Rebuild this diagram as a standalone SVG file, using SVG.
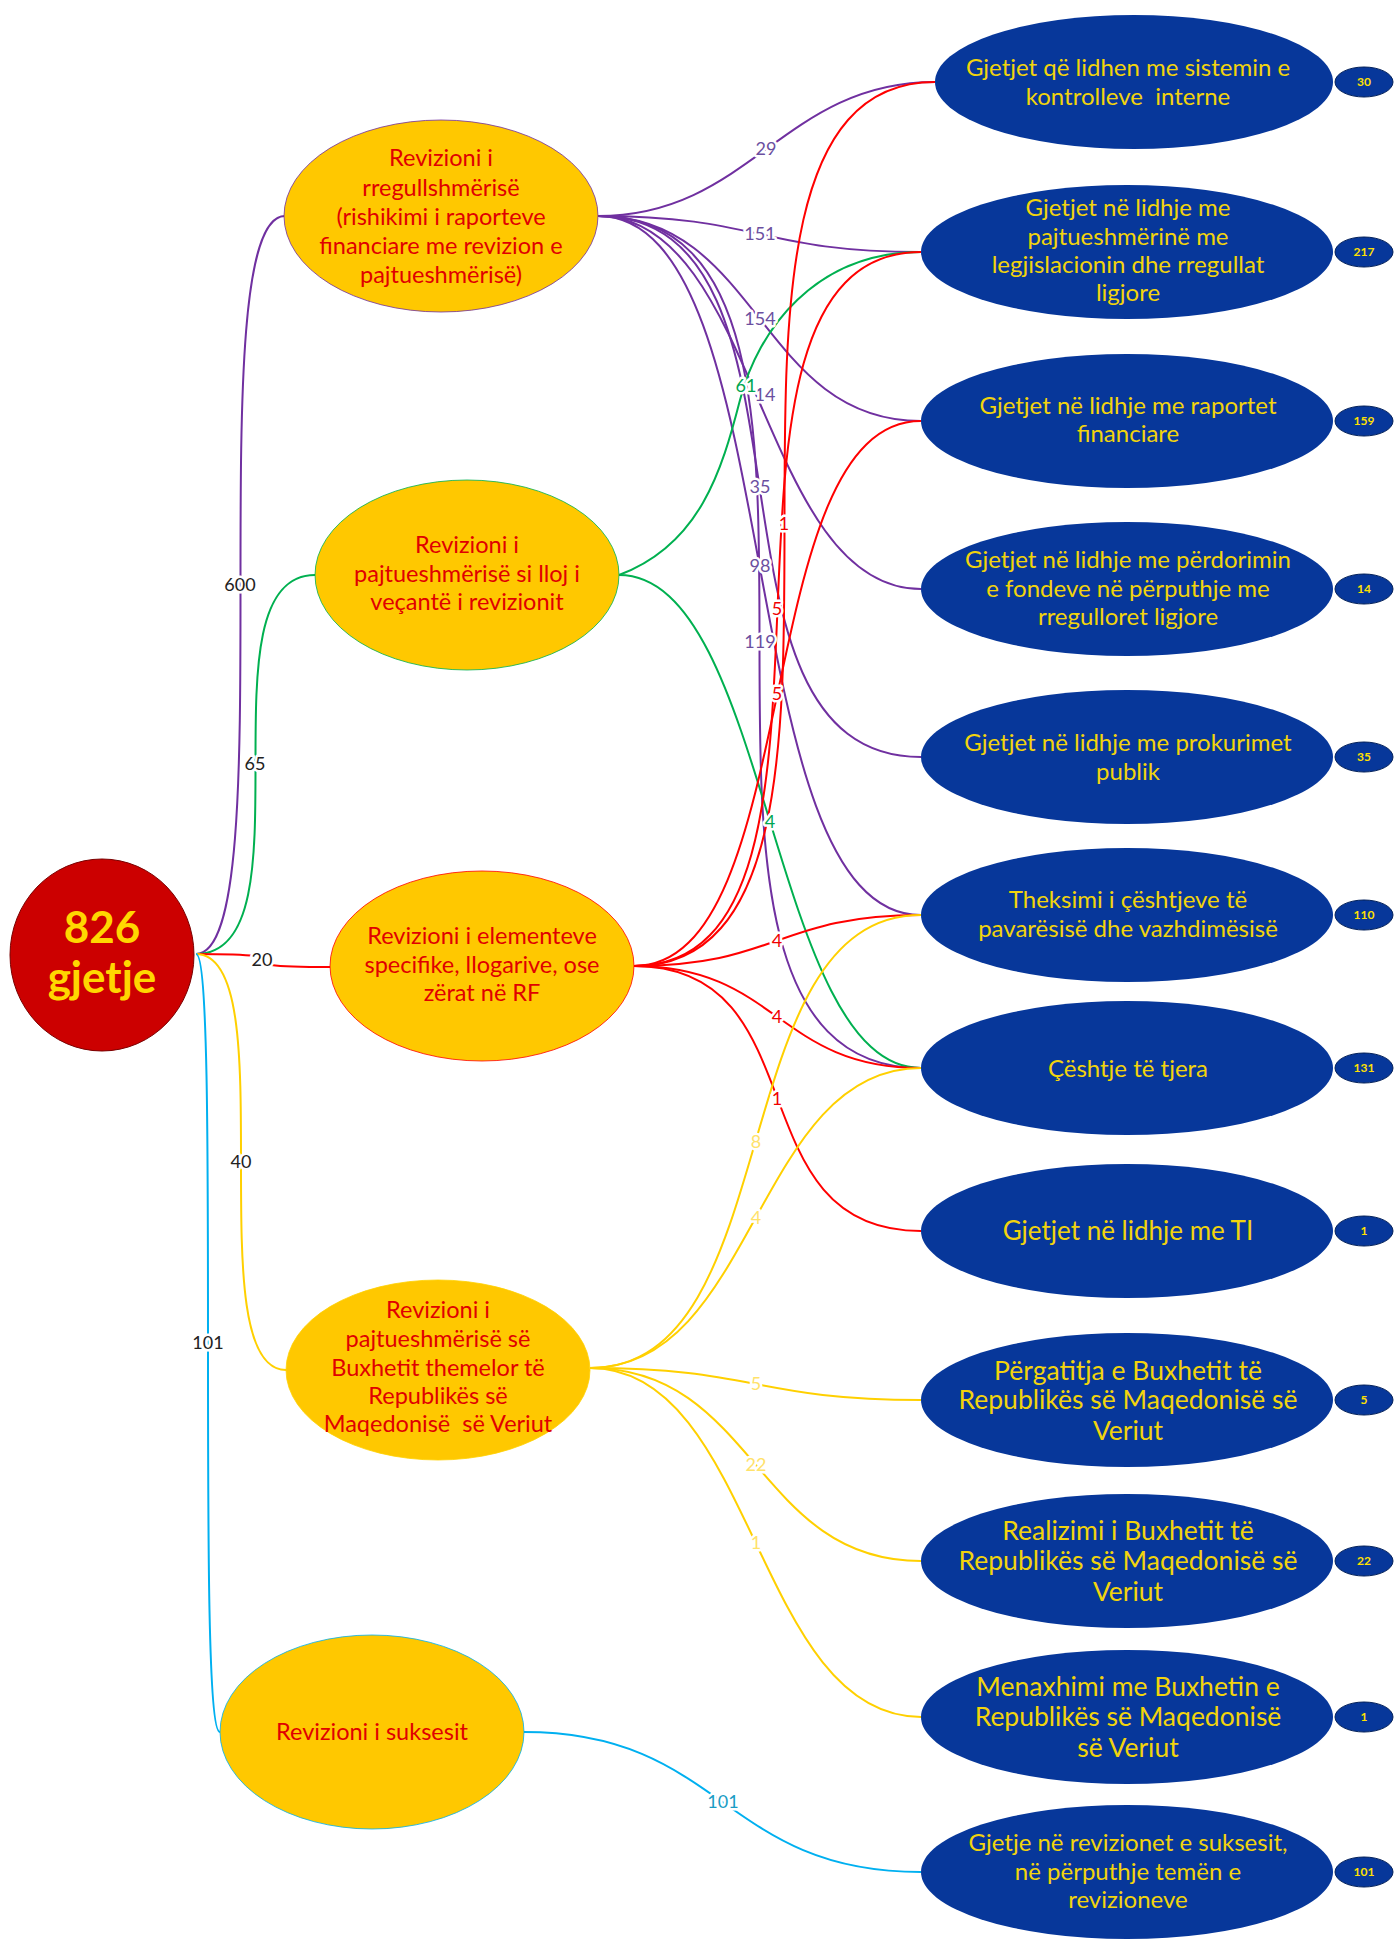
<svg xmlns="http://www.w3.org/2000/svg" width="1399" height="1939" viewBox="0 0 1399 1939">
<style>
.e{fill:none;stroke-width:2}
.pu{stroke:#7030A0}.gr{stroke:#00B050}.rd{stroke:#FF0000}.ye{stroke:#FFD000}.cy{stroke:#00B0F0}
.lb{font-family:Lato,"Liberation Sans",sans-serif;font-size:18px;text-anchor:middle;stroke:#fff;stroke-width:5;paint-order:stroke;stroke-linejoin:round}
.lk{fill:#222}.lp{fill:#6B4FA0}.lg{fill:#00A651}.lr{fill:#F00000}.ly{fill:#FFE26A}.lc{fill:#1A9CC4}
.l1{fill:#FFC800}
.t1{font-family:Lato,"Liberation Sans",sans-serif;font-size:23.5px;fill:#E00000;text-anchor:middle;white-space:pre}
.n2{fill:#07379A}
.t2{font-family:Lato,"Liberation Sans",sans-serif;font-size:24px;fill:#F2D40C;text-anchor:middle;white-space:pre}
.t2b{font-size:26.5px}
.c{fill:#07379A;stroke:#02205A;stroke-width:1}
.ct{font-family:Lato,"Liberation Sans",sans-serif;font-size:12px;font-weight:bold;fill:#FFE000;text-anchor:middle}
</style>
<rect width="1399" height="1939" fill="#fff"/>
<g id="connectors">
<path class="e pu" d="M196,954 C285,954 196,216 285,216"/>
<path class="e gr" d="M196,954 C315,954 196,575 315,575"/>
<path class="e rd" d="M196,954 C330,954 196,967 330,967"/>
<path class="e ye" d="M196,954 C286,954 196,1370 286,1370"/>
<path class="e cy" d="M196,954 C220,954 196,1732 220,1732"/>
<path class="e pu" d="M598,216 C750,216 783,82 935,82"/>
<path class="e pu" d="M598,216 C759.5,216 759.5,252 921,252"/>
<path class="e pu" d="M598,216 C759.5,216 759.5,421 921,421"/>
<path class="e pu" d="M598,216 C759.5,216 759.5,589 921,589"/>
<path class="e pu" d="M598,216 C840,216 679,757 921,757"/>
<path class="e pu" d="M598,216 C792,216 727,915 921,915"/>
<path class="e pu" d="M598,216 C921,216 598,1068 921,1068"/>
<path class="e gr" d="M619,575 C700,545 722,470 740,400 S815,252 921,252"/>
<path class="e gr" d="M619,575 C770,575 770,1068 921,1068"/>
<path class="e rd" d="M634,966 C935,966 634,82 935,82"/>
<path class="e rd" d="M634,966 C892,966 663,252 921,252"/>
<path class="e rd" d="M634,966 C806,966 749,421 921,421"/>
<path class="e rd" d="M634,966 C777.5,966 777.5,915 921,915"/>
<path class="e rd" d="M634,966 C777.5,966 777.5,1068 921,1068"/>
<path class="e rd" d="M634,966 C821,966 734,1231 921,1231"/>
<path class="e ye" d="M590,1368 C789,1368 722,915 921,915"/>
<path class="e ye" d="M590,1368 C755.5,1368 755.5,1068 921,1068"/>
<path class="e ye" d="M590,1368 C755.5,1368 755.5,1400 921,1400"/>
<path class="e ye" d="M590,1368 C755.5,1368 755.5,1561 921,1561"/>
<path class="e ye" d="M590,1368 C755.5,1368 755.5,1717 921,1717"/>
<path class="e cy" d="M524,1732 C722.5,1732 722.5,1872 921,1872"/>
<text class="lb lk" x="240" y="591">600</text>
<text class="lb lk" x="255" y="770">65</text>
<text class="lb lk" x="262" y="966">20</text>
<text class="lb lk" x="241" y="1168">40</text>
<text class="lb lk" x="208" y="1349">101</text>
<text class="lb lp" x="766" y="155">29</text>
<text class="lb lp" x="760" y="240">151</text>
<text class="lb lp" x="760" y="325">154</text>
<text class="lb lp" x="765" y="401">14</text>
<text class="lb lp" x="760" y="493">35</text>
<text class="lb lp" x="760" y="572">98</text>
<text class="lb lp" x="760" y="648">119</text>
<text class="lb lg" x="746" y="392">61</text>
<text class="lb lg" x="770" y="828">4</text>
<text class="lb lr" x="784" y="530">1</text>
<text class="lb lr" x="777" y="615">5</text>
<text class="lb lr" x="777" y="700">5</text>
<text class="lb lr" x="777" y="947">4</text>
<text class="lb lr" x="777" y="1023">4</text>
<text class="lb lr" x="777" y="1105">1</text>
<text class="lb ly" x="756" y="1148">8</text>
<text class="lb ly" x="756" y="1224">4</text>
<text class="lb ly" x="756" y="1390">5</text>
<text class="lb ly" x="756" y="1471">22</text>
<text class="lb ly" x="756" y="1549">1</text>
<text class="lb lc" x="723" y="1808">101</text>
</g>
<g id="root">
<ellipse cx="102" cy="955" rx="92" ry="96" fill="#CC0000" stroke="#7a0000" stroke-width="1"/>
<text x="102" y="943" font-family="Lato,'Liberation Sans',sans-serif" font-size="44" font-weight="bold" fill="#FFD700" text-anchor="middle">826</text>
<text x="102" y="993" font-family="Lato,'Liberation Sans',sans-serif" font-size="44" font-weight="bold" fill="#FFD700" text-anchor="middle">gjetje</text>
</g>
<g id="nodeA">
<ellipse class="l1" cx="441" cy="216" rx="157" ry="96" stroke="#7030A0" stroke-width="0.8"/>
<text class="t1" x="441" y="166">Revizioni i</text>
<text class="t1" x="441" y="196">rregullshmërisë</text>
<text class="t1" x="441" y="225">(rishikimi i raporteve</text>
<text class="t1" x="441" y="254">financiare me revizion e</text>
<text class="t1" x="441" y="283">pajtueshmërisë)</text>
</g>
<g id="nodeB">
<ellipse class="l1" cx="467" cy="575" rx="152" ry="95" stroke="#00B050" stroke-width="0.8"/>
<text class="t1" x="467" y="553">Revizioni i</text>
<text class="t1" x="467" y="582">pajtueshmërisë si lloj i</text>
<text class="t1" x="467" y="610">veçantë i revizionit</text>
</g>
<g id="nodeC">
<ellipse class="l1" cx="482" cy="966" rx="152" ry="95" stroke="#FF0000" stroke-width="0.8"/>
<text class="t1" x="482" y="944">Revizioni i elementeve</text>
<text class="t1" x="482" y="973">specifike, llogarive, ose</text>
<text class="t1" x="482" y="1001">zërat në RF</text>
</g>
<g id="nodeD">
<ellipse class="l1" cx="438" cy="1370" rx="152" ry="90" stroke="#FFD000" stroke-width="0.8"/>
<text class="t1" x="438" y="1318">Revizioni i</text>
<text class="t1" x="438" y="1347">pajtueshmërisë së</text>
<text class="t1" x="438" y="1376">Buxhetit themelor të</text>
<text class="t1" x="438" y="1404">Republikës së</text>
<text class="t1" x="438" y="1432">Maqedonisë  së Veriut</text>
</g>
<g id="nodeE">
<ellipse class="l1" cx="372" cy="1732" rx="152" ry="97" stroke="#00B0F0" stroke-width="0.8"/>
<text class="t1" x="372" y="1740">Revizioni i suksesit</text>
</g>
<g id="n1">
<ellipse class="n2" cx="1134" cy="82" rx="199" ry="67"/>
<text class="t2" x="1128" y="76">Gjetjet që lidhen me sistemin e</text>
<text class="t2" x="1128" y="105">kontrolleve  interne</text>
<ellipse class="c" cx="1364" cy="82" rx="29" ry="15"/><text class="ct" x="1364" y="86">30</text>
</g>
<g id="n2">
<ellipse class="n2" cx="1127" cy="252" rx="206" ry="67"/>
<text class="t2" x="1128" y="216">Gjetjet në lidhje me</text>
<text class="t2" x="1128" y="245">pajtueshmërinë me</text>
<text class="t2" x="1128" y="273">legjislacionin dhe rregullat</text>
<text class="t2" x="1128" y="301">ligjore</text>
<ellipse class="c" cx="1364" cy="252" rx="29" ry="15"/><text class="ct" x="1364" y="256">217</text>
</g>
<g id="n3">
<ellipse class="n2" cx="1127" cy="421" rx="206" ry="67"/>
<text class="t2" x="1128" y="414">Gjetjet në lidhje me raportet</text>
<text class="t2" x="1128" y="442">financiare</text>
<ellipse class="c" cx="1364" cy="421" rx="29" ry="15"/><text class="ct" x="1364" y="425">159</text>
</g>
<g id="n4">
<ellipse class="n2" cx="1127" cy="589" rx="206" ry="67"/>
<text class="t2" x="1128" y="568">Gjetjet në lidhje me përdorimin</text>
<text class="t2" x="1128" y="597">e fondeve në përputhje me</text>
<text class="t2" x="1128" y="625">rregulloret ligjore</text>
<ellipse class="c" cx="1364" cy="589" rx="29" ry="15"/><text class="ct" x="1364" y="593">14</text>
</g>
<g id="n5">
<ellipse class="n2" cx="1127" cy="757" rx="206" ry="67"/>
<text class="t2" x="1128" y="751">Gjetjet në lidhje me prokurimet</text>
<text class="t2" x="1128" y="780">publik</text>
<ellipse class="c" cx="1364" cy="757" rx="29" ry="15"/><text class="ct" x="1364" y="761">35</text>
</g>
<g id="n6">
<ellipse class="n2" cx="1127" cy="915" rx="206" ry="67"/>
<text class="t2" x="1128" y="908">Theksimi i çështjeve të</text>
<text class="t2" x="1128" y="937">pavarësisë dhe vazhdimësisë</text>
<ellipse class="c" cx="1364" cy="915" rx="29" ry="15"/><text class="ct" x="1364" y="919">110</text>
</g>
<g id="n7">
<ellipse class="n2" cx="1127" cy="1068" rx="206" ry="67"/>
<text class="t2" x="1128" y="1077">Çështje të tjera</text>
<ellipse class="c" cx="1364" cy="1068" rx="29" ry="15"/><text class="ct" x="1364" y="1072">131</text>
</g>
<g id="n8">
<ellipse class="n2" cx="1127" cy="1231" rx="206" ry="67"/>
<text class="t2" x="1128" y="1240" style="font-size:26px">Gjetjet në lidhje me TI</text>
<ellipse class="c" cx="1364" cy="1231" rx="29" ry="15"/><text class="ct" x="1364" y="1235">1</text>
</g>
<g id="n9">
<ellipse class="n2" cx="1127" cy="1400" rx="206" ry="67"/>
<text class="t2 t2b" x="1128" y="1380">Përgatitja e Buxhetit të</text>
<text class="t2 t2b" x="1128" y="1409">Republikës së Maqedonisë së</text>
<text class="t2 t2b" x="1128" y="1440">Veriut</text>
<ellipse class="c" cx="1364" cy="1400" rx="29" ry="15"/><text class="ct" x="1364" y="1404">5</text>
</g>
<g id="n10">
<ellipse class="n2" cx="1127" cy="1561" rx="206" ry="67"/>
<text class="t2 t2b" x="1128" y="1540">Realizimi i Buxhetit të</text>
<text class="t2 t2b" x="1128" y="1570">Republikës së Maqedonisë së</text>
<text class="t2 t2b" x="1128" y="1601">Veriut</text>
<ellipse class="c" cx="1364" cy="1561" rx="29" ry="15"/><text class="ct" x="1364" y="1565">22</text>
</g>
<g id="n11">
<ellipse class="n2" cx="1127" cy="1717" rx="206" ry="67"/>
<text class="t2 t2b" x="1128" y="1696">Menaxhimi me Buxhetin e</text>
<text class="t2 t2b" x="1128" y="1726">Republikës së Maqedonisë</text>
<text class="t2 t2b" x="1128" y="1757">së Veriut</text>
<ellipse class="c" cx="1364" cy="1717" rx="29" ry="15"/><text class="ct" x="1364" y="1721">1</text>
</g>
<g id="n12">
<ellipse class="n2" cx="1127" cy="1872" rx="206" ry="67"/>
<text class="t2" x="1128" y="1851">Gjetje në revizionet e suksesit,</text>
<text class="t2" x="1128" y="1880">në përputhje temën e</text>
<text class="t2" x="1128" y="1908">revizioneve</text>
<ellipse class="c" cx="1364" cy="1872" rx="29" ry="15"/><text class="ct" x="1364" y="1876">101</text>
</g>
</svg>
